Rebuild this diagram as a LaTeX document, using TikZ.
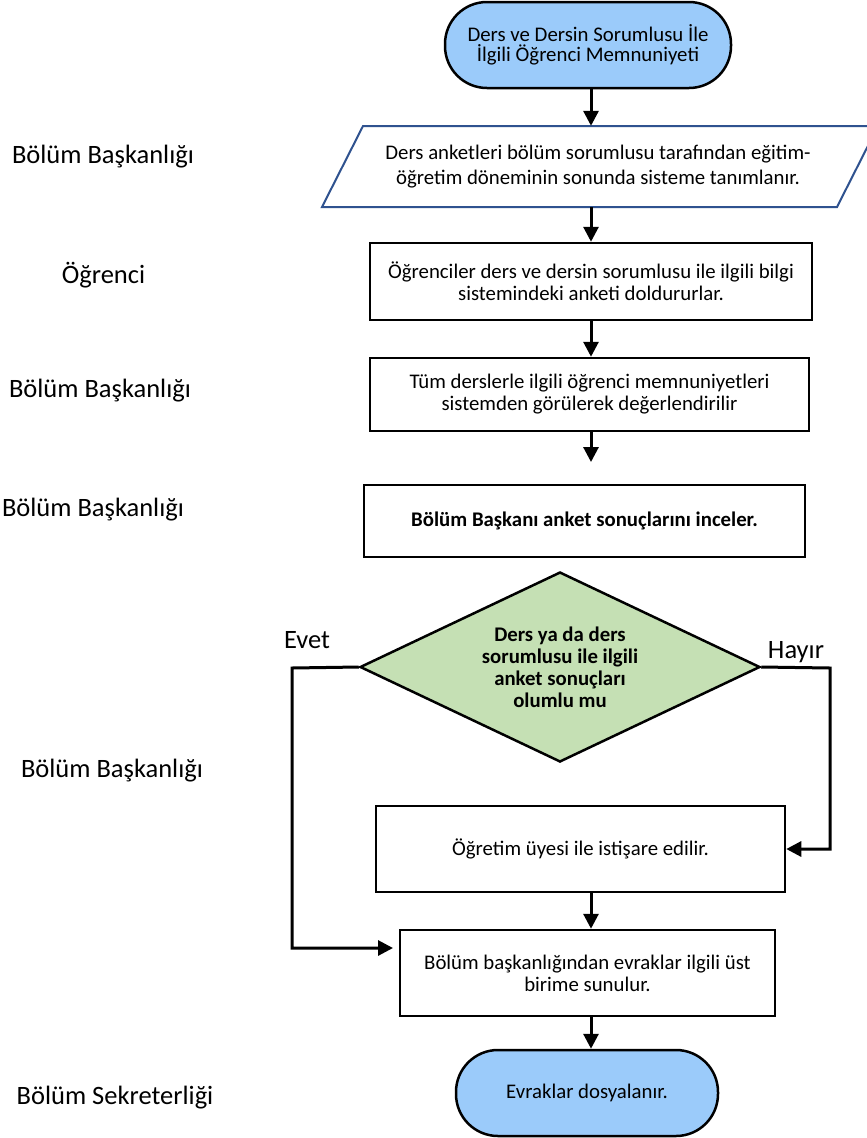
\documentclass[tikz,border=0pt]{standalone}
\usepackage{fontspec}
\setmainfont{Carlito}
\usetikzlibrary{shapes.geometric,arrows.meta,calc}
\definecolor{termblue}{RGB}{155,203,250}
\definecolor{decgreen}{RGB}{197,224,180}
\definecolor{parblue}{RGB}{47,82,143}
\begin{document}
\begin{tikzpicture}[x=1pt,y=-1pt,
  boxtext/.style={font=\fontsize{20.8}{22}\selectfont, align=center},
  procbox/.style={draw=black, line width=2.5pt, fill=white, rectangle, inner sep=0pt, boxtext},
  termbox/.style={draw=black, line width=2.5pt, fill=termblue, rectangle, rounded corners=42pt, inner sep=0pt, boxtext},
  decbox/.style={draw=black, line width=2.5pt, fill=decgreen, diamond, aspect=2.1, inner sep=0pt, align=center, font=\fontsize{20.8}{22}\selectfont\bfseries},
  lanelabel/.style={font=\fontsize{26.5}{30}\selectfont, anchor=base, inner sep=0pt},
  arr/.style={line width=3pt, -{Triangle[width=15pt,length=15pt]}},
]
\useasboundingbox (0,0) rectangle (867,1138);
\clip (0,0) rectangle (867,1138);
\fill[white] (0,0) rectangle (867,1138);
\coordinate (axis) at (591,0);

% lane labels
\node[lanelabel] (l1) at (103,163) {Bölüm Başkanlığı};
\node[lanelabel] (l2) at (103.5,283) {Öğrenci};
\node[lanelabel] (l3) at (100,397) {Bölüm Başkanlığı};
\node[lanelabel] (l4) at (93,516) {Bölüm Başkanlığı};
\node[lanelabel] (l5) at (112,777) {Bölüm Başkanlığı};
\node[lanelabel] (l6) at (115,1104) {Bölüm Sekreterliği};

% start
\node[termbox, minimum width=286pt, minimum height=86pt, font=\fontsize{20.8}{20.5}\selectfont] (t1) at (588,45) {Ders ve Dersin Sorumlusu İle\\İlgili Öğrenci Memnuniyeti};

% parallelogram
\draw[parblue, line width=2pt, fill=white] (363,126) -- (878,126) -- (837,207) -- (322,207) -- cycle;
\node[boxtext, minimum width=556pt, minimum height=81pt, inner sep=0pt, font=\fontsize{20.8}{25}\selectfont] (p1) at (598,166.5) {Ders anketleri bölüm sorumlusu tarafından eğitim-\\öğretim döneminin sonunda sisteme tanımlanır.};

\node[procbox, minimum width=442pt, minimum height=77pt] (b2) at (591,281.5) {Öğrenciler ders ve dersin sorumlusu ile ilgili bilgi\\sistemindeki anketi doldururlar.};
\node[procbox, minimum width=439pt, minimum height=73pt] (b3) at (589.5,394.5) {Tüm derslerle ilgili öğrenci memnuniyetleri\\sistemden görülerek değerlendirilir};
\node[procbox, minimum width=441pt, minimum height=72pt, font=\fontsize{20.8}{22}\selectfont\bfseries] (b4) at (584.5,521) {Bölüm Başkanı anket sonuçlarını inceler.};

\node[decbox, minimum width=400pt, minimum height=190pt] (d1) at (560,667) {Ders ya da ders\\sorumlusu ile ilgili\\anket sonuçları\\olumlu mu};
\node[lanelabel] (evet) at (307,648) {Evet};
\node[lanelabel] (hayir) at (796,658) {Hayır};

\node[procbox, minimum width=409pt, minimum height=86pt] (b5) at (580.5,849) {Öğretim üyesi ile istişare edilir.};
\node[procbox, minimum width=375pt, minimum height=86pt] (b6) at (587.5,973) {Bölüm başkanlığından evraklar ilgili üst\\birime sunulur.};
\node[termbox, minimum width=262pt, minimum height=86pt] (t2) at (587,1093) {Evraklar dosyalanır.};

% connectors
\coordinate (b3end) at (591,462);
\coordinate (evcorner) at (292,668);
\coordinate (evtip) at (393,948);
\coordinate (hycorner) at (830,668);
\draw[arr] (t1.south -| axis) -- (p1.north -| axis);
\draw[arr] (p1.south -| axis) -- (b2.north -| axis);
\draw[arr] (b2.south -| axis) -- (b3.north -| axis);
\draw[arr] (b3.south -| axis) -- (b3end);
\draw[arr] (d1.west) -- (evcorner) |- (evtip);
\draw[arr] (d1.east) -- (hycorner) |- (b5.east);
\draw[arr] (b5.south -| axis) -- (b6.north -| axis);
\draw[arr] (b6.south -| axis) -- (t2.north -| axis);
\end{tikzpicture}
\end{document}
